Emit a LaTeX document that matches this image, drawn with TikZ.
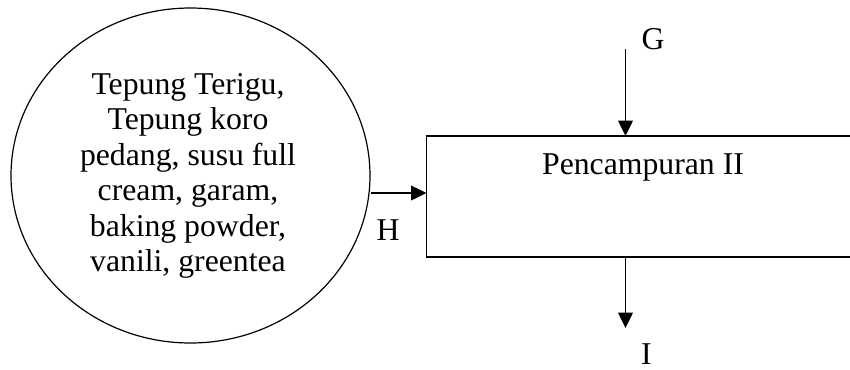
\documentclass[tikz,border=0pt]{standalone}
\usepackage{fontspec}
\setmainfont{Liberation Serif}
\usetikzlibrary{arrows.meta,shapes.geometric}
\begin{document}
\begin{tikzpicture}[x=0.75pt,y=-0.75pt,
  flow/.style={line width=1pt,-{Triangle[length=11.5pt,width=11pt]}},
  lbl/.style={font=\fontsize{23.8}{26.6}\selectfont,inner sep=0pt},
  shp/.style={draw,line width=0.9pt}]
\useasboundingbox (0,0) rectangle (850,369);
\clip (0,0) rectangle (850,369);
\node[shp,ellipse,minimum width=269.25pt,minimum height=251.25pt,inner sep=0pt] (src) at (190.5,175.5) {};
\node[lbl,align=center] (srctxt) at (188,176) {Tepung Terigu,\\Tepung koro\\pedang, susu full\\cream, garam,\\baking powder,\\vanili, greentea};
\coordinate (boxnw) at (426.5,136);
\coordinate (boxse) at (900,257);
\draw[shp,line width=1pt] (boxnw) rectangle (boxse);
\node[lbl] (mix) at (643,167) {Pencampuran II};
\coordinate (hin) at (426.5,193);
\draw[flow] (src.east |- hin) -- (hin);
\node[lbl] (H) at (388,230) {H};
\coordinate (gtop) at (625.5,49);
\coordinate (gin) at (625.5,136);
\draw[flow] (gtop) -- (gin);
\node[lbl] (G) at (653,39) {G};
\coordinate (iout) at (625.5,257);
\coordinate (iend) at (625.5,328);
\draw[flow] (iout) -- (iend);
\node[lbl] (I) at (646.5,354.5) {I};
\end{tikzpicture}
\end{document}
